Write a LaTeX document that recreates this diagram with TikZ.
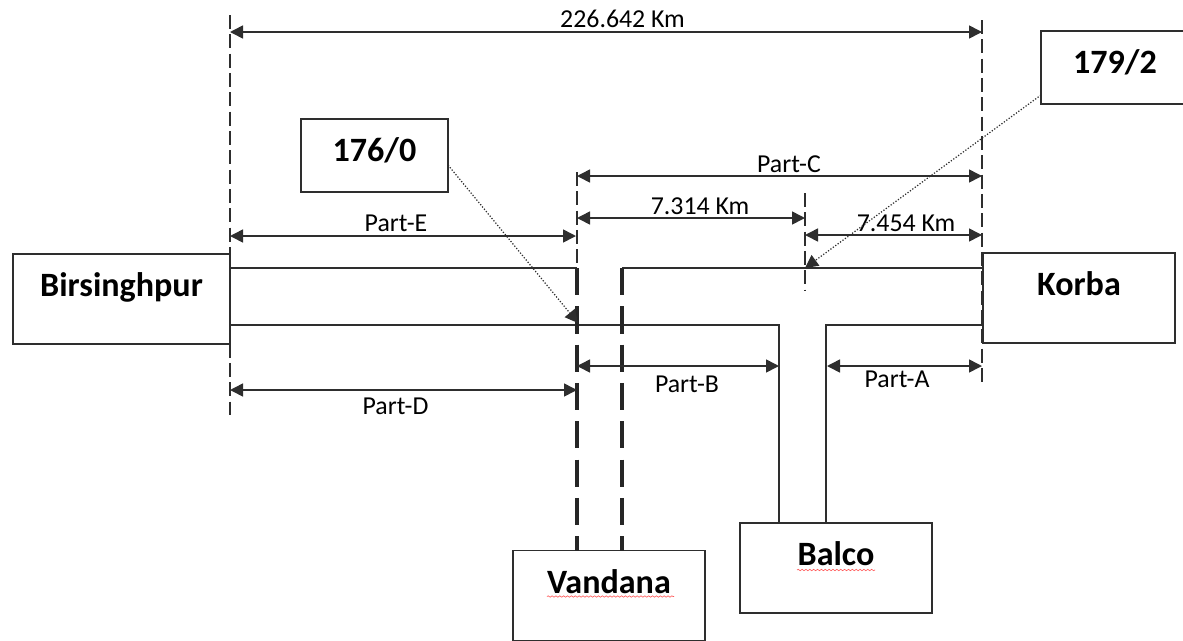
\documentclass[tikz,border=0pt]{standalone}
\usepackage{fontspec}
\setmainfont{Carlito}
\usetikzlibrary{arrows.meta, decorations.pathmorphing}

\definecolor{linegray}{HTML}{2E2E2E}
\tikzset{
  box/.style={draw=linegray, line width=1.1pt, fill=white, font=\fontsize{19.4}{20}\bfseries\selectfont},
  offbox/.style={box, text depth=0.56cm},
  towerbox/.style={box, text depth=0.25cm},
  line/.style={draw=linegray, line width=1.1pt},
  stub/.style={draw=black!85, line width=1.8pt, dash pattern=on 15.5pt off 6.3pt},
  guide/.style={draw=linegray, line width=0.7pt, dash pattern=on 8pt off 3pt},
  dim/.style={draw=linegray, line width=0.9pt, {Triangle[length=0.26cm,width=0.26cm]}-{Triangle[length=0.26cm,width=0.26cm]}},
  pointer/.style={draw=linegray, line width=0.7pt, densely dotted, -{Triangle[length=0.26cm,width=0.26cm]}},
  dimlabel/.style={font=\fontsize{14.7}{16}\selectfont, text=black, inner sep=0pt},
  squiggle/.style={draw=red!65, line width=0.35pt, decorate, decoration={snake, amplitude=0.4pt, segment length=2.2pt}}
}

\begin{document}
\begin{tikzpicture}[x=0.02cm, y=-0.02cm]
  \useasboundingbox (0,0) rectangle (1183,640);

  % Guides behind the boxes
  \coordinate (leftTop) at (230,15);
  \coordinate (leftEnd) at (230,415);
  \coordinate (rightTop) at (982,20);
  \coordinate (rightEnd) at (982,385);
  \coordinate (midTop) at (577,172);
  \coordinate (midEnd) at (577,269);
  \coordinate (tapTop) at (805,193);
  \coordinate (tapEnd) at (805,290);
  \draw[guide] (leftTop) -- (leftEnd);
  \draw[guide] (rightTop) -- (rightEnd);
  \draw[guide] (midTop) -- (midEnd);
  \draw[guide] (tapTop) -- (tapEnd);

  % Stations
  \node[offbox, minimum width=4.34cm, minimum height=1.8cm] (birsinghpur) at (121.5,299) {Birsinghpur};
  \node[offbox, minimum width=3.84cm, minimum height=1.8cm] (korba) at (1079,298) {Korba\hspace{0.24cm}};
  \node[offbox, minimum width=3.84cm, minimum height=1.8cm] (vandana) at (609,595.5) {Vandana};
  \node[offbox, minimum width=3.84cm, minimum height=1.8cm] (balco) at (836,568) {Balco};

  % Towers
  \node[towerbox, minimum width=2.94cm, minimum height=1.46cm] (tower176) at (374.5,155.5) {176/0};
  \node[towerbox, minimum width=2.96cm, minimum height=1.46cm] (tower179) at (1115,67.5) {179/2};

  % Line points
  \coordinate (topLeft) at (230,268);
  \coordinate (topMid) at (577,268);
  \coordinate (topTurn) at (622,268);
  \coordinate (topRight) at (983,268);
  \coordinate (lowLeft) at (230,325);
  \coordinate (lowTurn) at (779,325);
  \coordinate (lowBalco) at (779,523);
  \coordinate (riseTurn) at (826,325);
  \coordinate (riseBalco) at (826,523);
  \coordinate (riseRight) at (983,325);
  \coordinate (stubA) at (577,551);
  \coordinate (stubB) at (622,551);

  \draw[line] (topLeft) -- (topMid);
  \draw[line] (topTurn) -- (topRight);
  \draw[line] (lowLeft) -- (lowTurn) -- (lowBalco);
  \draw[line] (riseRight) -- (riseTurn) -- (riseBalco);
  \draw[stub] (topMid) -- (stubA);
  \draw[stub] (topTurn) -- (stubB);

  % Dimensions
  \draw[dim] (230,32) coordinate (a1) -- (982,32) coordinate (a2);
  \draw[dim] (577,176) coordinate (c1) -- (982,176) coordinate (c2);
  \draw[dim] (577,218) coordinate (d1) -- (805,218) coordinate (d2);
  \draw[dim] (805,235) coordinate (e1) -- (982,235) coordinate (e2);
  \draw[dim] (230,236) coordinate (f1) -- (576,236) coordinate (f2);
  \draw[dim] (577,366) coordinate (g1) -- (779,366) coordinate (g2);
  \draw[dim] (827,366) coordinate (h1) -- (982,366) coordinate (h2);
  \draw[dim] (230,390) coordinate (i1) -- (577,390) coordinate (i2);

  \node[dimlabel] (lenTotal) at (622.5,19) {226.642 Km};
  \node[dimlabel] (partC) at (789,164) {Part-C};
  \node[dimlabel] (lenLeft) at (700,206) {7.314 Km};
  \node[dimlabel] (lenRight) at (906,223) {7.454 Km};
  \node[dimlabel] (partE) at (396,223) {Part-E};
  \node[dimlabel] (partB) at (687,384) {Part-B};
  \node[dimlabel] (partA) at (897,379) {Part-A};
  \node[dimlabel] (partD) at (395.5,406.5) {Part-D};

  % Pointers
  \coordinate (pointA) at (578,323);
  \coordinate (pointB) at (805,268);
  \draw[pointer] (448,165) coordinate (from176) -- (pointA);
  \draw[pointer] (1041,95) coordinate (from179) -- (pointB);

  % Spell check marks
  \coordinate (wavyA) at (547,596.5);
  \coordinate (wavyB) at (674,596.5);
  \coordinate (wavyC) at (797,570);
  \coordinate (wavyD) at (875,570);
  \draw[squiggle] (wavyA) -- (wavyB);
  \draw[squiggle] (wavyC) -- (wavyD);
\end{tikzpicture}
\end{document}
